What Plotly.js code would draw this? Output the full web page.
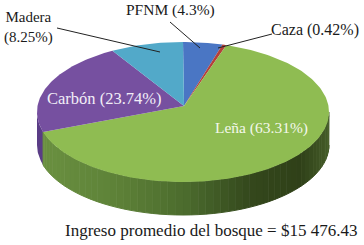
<!DOCTYPE html>
<html><head><meta charset="utf-8">
<script src="https://cdn.plot.ly/plotly-3.0.1.min.js"></script>
<style>html,body{margin:0;padding:0;background:#fff}#c{width:364px;height:245px}</style>
</head><body><div id="c"></div>
<script>
const categories = ['PFNM','Caza','Leña','Carbón','Madera'];
const shares = [4.3,0.42,63.31,23.74,8.25];
const topColors = ['#4a76c4','#b5403a','#8fbc52','#7650a0','#52a9c9'];
const wallShadeStops = [[0,[106,144,64]],[0.25,[94,130,56]],[0.5,[75,107,45]],[0.72,[52,72,28]],[0.9,[47,64,24]],[1,[68,92,40]]];
const caption = 'Ingreso promedio del bosque = $15 476.43';

const cx=183, cy=112, rx=146, ry=70, depth=33, hubX=184, hubY=106;
const total = shares.reduce((a,b)=>a+b,0);
const warp = d => d + 6*(1-Math.cos(d*Math.PI/180));
const pt = (d,off=0) => { const t=warp(d)*Math.PI/180; return [cx+rx*Math.sin(t), cy-ry*Math.cos(t)+off]; };
const pt0 = (t,off=0) => [cx+rx*Math.sin(t*Math.PI/180), cy-ry*Math.cos(t*Math.PI/180)+off];
function arc(a,b,f){const o=[];const n=Math.max(2,Math.ceil(Math.abs(b-a)));for(let i=0;i<=n;i++)o.push(f(a+(b-a)*i/n));return o;}
const traces=[];
function poly(pts,extra){traces.push(Object.assign({type:'scatter',mode:'lines',x:pts.map(p=>p[0]),y:pts.map(p=>p[1]),fill:'toself',line:{width:0},hoverinfo:'skip',showlegend:false},extra));}
function shade(u){
  for(let i=1;i<wallShadeStops.length;i++){
    const [a,ca]=wallShadeStops[i-1],[b,cb]=wallShadeStops[i];
    if(u<=b){const k=(u-a)/(b-a);return 'rgb('+ca.map((v,j)=>Math.round(v+(cb[j]-v)*k)).join(',')+')';}
  }
  return 'rgb(68,92,40)';
}

let acc=0; const edges=categories.map((c,i)=>{const a=acc; acc+=shares[i]/total*360; return [a,acc];});
const lenaEnd=warp(edges[2][1]);
const wall=(a,b)=>arc(a,b,t=>pt0(t)).concat(arc(b,a,t=>pt0(t,depth)));
poly(wall(lenaEnd,270),{fillcolor:'#5a3c86'});
for(let t=90;t<lenaEnd;t+=3){
  const e=Math.min(t+3,lenaEnd), mid=pt0((t+e)/2)[0];
  const col=shade((pt0(lenaEnd)[0]<mid)?(mid-pt0(lenaEnd)[0])/(pt0(90)[0]-pt0(lenaEnd)[0]):0);
  poly(wall(t,e),{fillcolor:col,line:{width:1,color:col}});
}
categories.forEach((c,i)=>{
  const pts=[[hubX,hubY]].concat(arc(edges[i][0],edges[i][1],d=>pt(d)));
  pts.push([hubX,hubY]);
  poly(pts,{fillcolor:topColors[i],name:c});
});
const leader=(x,y)=>traces.push({type:'scatter',mode:'lines',x,y,line:{color:'#222',width:1},hoverinfo:'skip',showlegend:false});
leader([57,160],[28,52]);
leader([170,200],[22,48]);
leader([272,218],[34,48]);

const label=(text,x,y,color,size)=>({text,x,y,xref:'x',yref:'y',showarrow:false,align:'center',
  font:{family:'"Liberation Serif",serif',size:size||15.5,color:color||'#1a1a1a'}});
const tag=i=>categories[i]+' ('+shares[i]+'%)';
const annotations=[
  label('Madera<br>('+shares[4]+'%)',28,27,'#1a1a1a',15),
  label(tag(0),170,10),
  label(tag(1),315,30,'#1a1a1a',16),
  label(tag(3),104,98,'#f2eef7',16.5),
  label(tag(2),261,128,'#f4f8ec',15.5),
  label(caption,211,230,'#1a1a1a',17)
];
Plotly.newPlot('c',traces,{
  width:364,height:245,margin:{l:0,r:0,t:0,b:0},paper_bgcolor:'#fff',plot_bgcolor:'#fff',showlegend:false,
  xaxis:{range:[0,364],visible:false,fixedrange:true},
  yaxis:{range:[245,0],visible:false,fixedrange:true},
  annotations
},{displayModeBar:false,staticPlot:true});
</script></body></html>
